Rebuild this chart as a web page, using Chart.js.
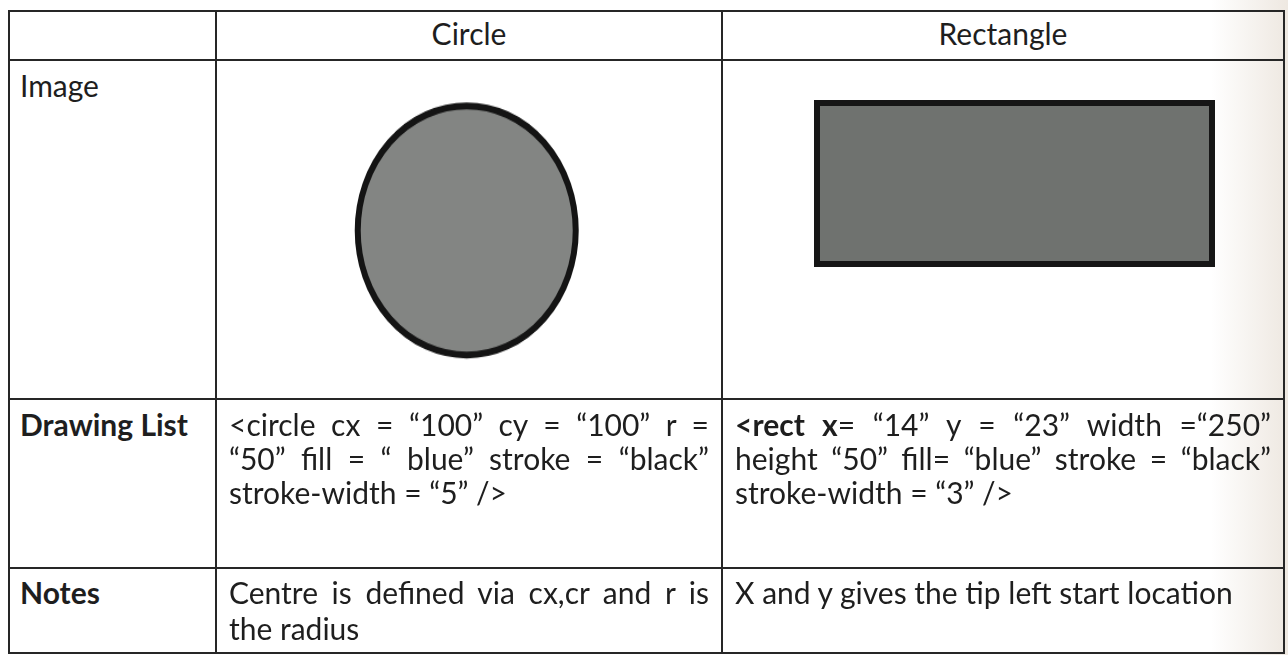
<!DOCTYPE html>
<html>
<head>
<meta charset="utf-8">
<script src="https://cdn.jsdelivr.net/npm/chart.js@4"></script>
<style>
  html, body { margin: 0; padding: 0; }
  body {
    width: 1288px; height: 655px; overflow: hidden;
    background: linear-gradient(to right, #fff 0, #fff 94%, #eee8e1 100%);
    font-family: Lato, "Open Sans", sans-serif;
    color: #1e1e1e;
  }
  #grid {
    position: absolute; left: 8px; top: 10px;
    display: grid;
    grid-template-columns: 207px 506px 562px;
    grid-template-rows: 49px 339px 169px 85px;
    border-left: 2px solid #262626;
    border-top: 2px solid #262626;
  }
  .cell {
    position: relative;
    box-sizing: border-box;
    border-right: 2px solid #262626;
    border-bottom: 2px solid #262626;
    font-size: 30px;
    line-height: 34px;
    padding: 7px 12px 0 12px;
  }
  .head { text-align: center; font-size: 30px; padding-top: 4px; }
  .label { padding-left: 10px; }
  .bold { font-weight: bold; }
  .line { white-space: nowrap; }
  .just { text-align: justify; text-align-last: justify; white-space: normal; }
  .notes { padding-top: 5px; line-height: 36px; }
  .stretch { position: absolute; left: 0; top: 0; transform-origin: 0 0; }
</style>
</head>
<body>
<div id="grid"></div>
<script>
// table text
const headers = ["", "Circle", "Rectangle"];
const rowLabels = ["Image", "Drawing List", "Notes"];
const circleList = [
  "<circle cx = “100” cy = “100” r =",
  "“50” fill = “ blue” stroke = “black”",
  "stroke-width = “5” />"
];
const rectList = [
  "<b>&lt;rect x</b>= “14” y = “23” width =“250”",
  "height “50” fill= “blue” stroke = “black”",
  "stroke-width = “3” />"
];
const circleNotes = ["Centre is defined via cx,cr and r is", "the radius"];
const rectNotes = ["X and y gives the tip left start location"];

// shapes in the image row, in cell units
const circleCentre = [247, 168];
const circleRadius = [112, 128];
const rectSpanX = [91, 492];
const rectSpanY = [39, 206];

const cellW = [207, 506, 562];
const imageRowH = 339;

function esc(s) {
  return s.replace(/&/g, "&amp;").replace(/</g, "&lt;").replace(/>/g, "&gt;");
}

function linesHtml(lines, justify, raw) {
  return lines.map((t, i) => {
    const cls = (justify && i < lines.length - 1) ? "line just" : "line";
    return `<div class="${cls}">${raw ? t : esc(t)}</div>`;
  }).join("");
}

const grid = document.getElementById("grid");
function addCell(cls, html) {
  const d = document.createElement("div");
  d.className = "cell " + cls;
  d.innerHTML = html;
  grid.appendChild(d);
  return d;
}

headers.forEach(h => addCell("head", esc(h)));

addCell("label", rowLabels[0]);
const circleCell = addCell("", "");
const rectCell = addCell("", "");

addCell("label bold", rowLabels[1]);
addCell("", linesHtml(circleList, true, false));
addCell("", linesHtml(rectList, true, true));

addCell("label bold notes", rowLabels[2]);
addCell("notes", linesHtml(circleNotes, true, false));
addCell("notes", linesHtml(rectNotes, false, false));

// circle: bubble drawn on a canvas stretched vertically into an ellipse
const squash = circleRadius[1] / circleRadius[0];
const cw = document.createElement("div");
cw.className = "stretch";
cw.style.transform = `scaleY(${squash})`;
const cCanvas = document.createElement("canvas");
cCanvas.width = cellW[1];
cCanvas.height = Math.round(imageRowH / squash);
cw.appendChild(cCanvas);
circleCell.style.padding = "0";
circleCell.appendChild(cw);

const borderW = 6;
new Chart(cCanvas.getContext("2d"), {
  type: "bubble",
  data: {
    datasets: [{
      data: [{ x: circleCentre[0], y: circleCentre[1], r: circleRadius[0] - borderW / 2 }],
      backgroundColor: "#838583",
      borderColor: "#141414",
      borderWidth: borderW,
      clip: false
    }]
  },
  options: {
    responsive: false,
    animation: false,
    events: [],
    layout: { padding: 0 },
    plugins: { legend: { display: false }, tooltip: { enabled: false } },
    scales: {
      x: { display: false, min: 0, max: cellW[1] },
      y: { display: false, min: 0, max: imageRowH, reverse: true }
    }
  }
});

// rectangle: one floating horizontal bar
const rCanvas = document.createElement("canvas");
rCanvas.width = cellW[2];
rCanvas.height = imageRowH;
rCanvas.className = "stretch";
rectCell.style.padding = "0";
rectCell.appendChild(rCanvas);

const barArea = (rectSpanY[0] + rectSpanY[1]);
new Chart(rCanvas.getContext("2d"), {
  type: "bar",
  data: {
    labels: ["rect"],
    datasets: [{
      data: [rectSpanX],
      backgroundColor: "#6f726f",
      borderColor: "#161616",
      borderWidth: 6,
      borderSkipped: false,
      barPercentage: (rectSpanY[1] - rectSpanY[0]) / barArea,
      categoryPercentage: 1
    }]
  },
  options: {
    indexAxis: "y",
    responsive: false,
    animation: false,
    events: [],
    layout: { padding: { bottom: imageRowH - barArea } },
    plugins: { legend: { display: false }, tooltip: { enabled: false } },
    scales: {
      x: { display: false, min: 0, max: cellW[2] },
      y: { display: false }
    }
  }
});
</script>
</body>
</html>
